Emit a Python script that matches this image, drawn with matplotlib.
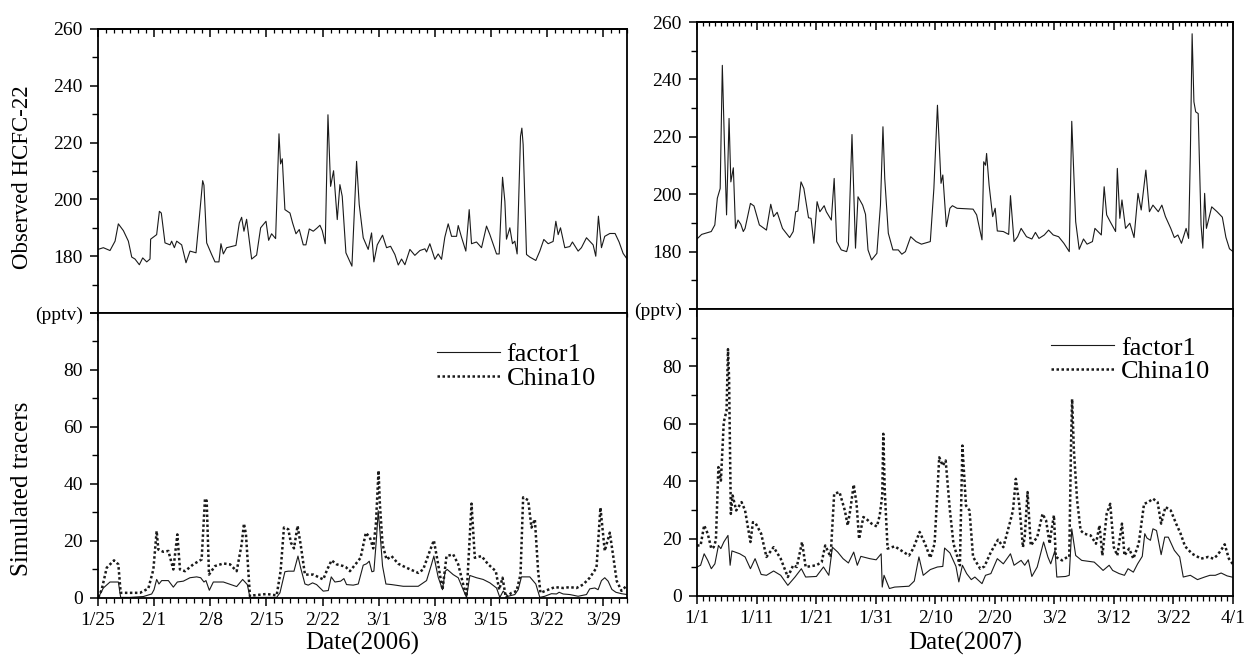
import numpy as np
import matplotlib
matplotlib.use("Agg")
import matplotlib.pyplot as plt
from matplotlib.ticker import FixedLocator, MultipleLocator

# ---------------------------------------------------------------
# Data: (day since first date, value)
# 2006 panels start on 1/25, 2007 panels start on 1/1
# ---------------------------------------------------------------
obs_2006 = [
    (0.0, 182.4), (0.66, 183), (1.49, 182), (2.12, 185.3), (2.53, 191.4), (3.16, 189),
    (3.78, 185.3), (4.20, 179.7), (4.61, 179), (5.15, 177), (5.57, 179.4), (6.07, 178),
    (6.48, 179), (6.56, 186), (7.31, 187.6), (7.65, 195.8), (7.89, 195.2), (8.35, 184.7),
    (8.98, 184), (9.18, 185.3), (9.52, 183), (9.81, 185.3), (10.43, 184), (10.97, 177.7),
    (11.47, 181.8), (12.22, 181.2), (12.63, 193.5), (13.05, 206.6), (13.21, 205),
    (13.55, 184.7), (14.17, 180.6), (14.59, 178), (15.08, 178), (15.33, 184.4),
    (15.63, 180.8), (16.04, 183), (17.20, 183.8), (17.62, 191.7), (17.91, 193.7),
    (18.20, 188.8), (18.53, 193), (19.16, 179), (19.78, 180.4), (20.28, 190),
    (20.95, 192.3), (21.28, 185.6), (21.65, 187.9), (22.15, 186.2), (22.57, 223.1),
    (22.77, 212.5), (22.98, 214.3), (23.31, 196.4), (23.94, 195.2), (24.27, 191.7),
    (24.69, 187.9), (25.10, 189.4), (25.60, 184), (25.93, 184), (26.35, 189.6),
    (26.85, 188.8), (27.35, 190), (27.68, 190.9), (27.97, 189), (28.34, 184.4),
    (28.68, 229.8), (29.01, 204.6), (29.38, 210.1), (29.84, 192.9), (30.17, 205.2),
    (30.46, 201.1), (30.92, 181.2), (31.67, 176.5), (32.25, 213.4), (32.58, 198.2),
    (33.08, 186.5), (33.70, 182.4), (34.12, 188.2), (34.41, 178), (34.83, 184),
    (35.49, 187.4), (35.99, 183), (36.49, 183.5), (37.03, 180.6), (37.45, 176.9),
    (37.86, 179), (38.28, 177), (38.90, 182.4), (39.52, 180.3), (40.15, 182),
    (40.77, 182.6), (40.98, 181.5), (41.39, 184.4), (42.02, 178.9), (42.43, 180.8),
    (42.85, 178.9), (43.26, 186.7), (43.68, 191.4), (44.10, 187), (44.72, 187),
    (44.93, 190.8), (45.34, 186.7), (45.88, 181.8), (46.30, 196.4), (46.59, 184.4),
    (47.21, 185), (47.84, 183), (48.46, 190.6), (48.88, 187.6), (49.71, 180.8),
    (50.04, 180.8), (50.46, 207.8), (50.75, 199.3), (50.95, 186), (51.37, 190),
    (51.70, 184.4), (51.99, 185.3), (52.28, 180.8), (52.70, 222.2), (52.87, 225.1),
    (53.03, 219.3), (53.45, 180.6), (53.86, 179.7), (54.61, 178.5), (55.11, 181.8),
    (55.61, 185.9), (56.15, 184.4), (56.77, 185.2), (57.11, 192.3), (57.40, 187.6),
    (57.69, 190), (58.23, 183), (58.85, 183.4), (59.18, 185), (59.89, 181.8),
    (60.30, 183), (60.93, 186.5), (61.76, 184), (62.09, 180), (62.42, 194.1),
    (62.80, 183), (63.21, 187), (63.84, 188), (64.5, 188), (65.0, 185), (65.5, 181),
    (66.0, 179),
]

factor1_2006 = [
    (0.04, 0.2), (0.66, 3.5), (1.49, 5.6), (2.53, 5.6), (2.82, 0.2), (3.99, 0.2),
    (5.65, 0.5), (6.69, 1.4), (6.98, 2.9), (7.31, 6.5), (7.60, 4.9), (7.94, 6.1),
    (8.77, 6.1), (9.39, 3.8), (9.89, 5.6), (10.64, 5.9), (11.47, 7.1), (12.30, 7.4),
    (12.80, 7.1), (13.21, 5.6), (13.46, 6.1), (13.88, 2.7), (14.38, 5.6), (15.63, 5.6),
    (17.29, 4.0), (18.04, 6.5), (18.62, 4.7), (18.95, 0.2), (19.78, 0.2), (22.28, 0.2),
    (22.69, 1.8), (23.31, 9.2), (23.73, 9.4), (24.44, 9.4), (24.94, 14.7), (25.27, 10.6),
    (25.81, 4.9), (26.22, 4.5), (26.76, 5.3), (27.26, 4.7), (28.09, 2.4), (28.72, 2.6),
    (29.09, 7.4), (29.55, 5.6), (30.26, 5.9), (30.67, 6.8), (31.00, 4.7), (31.83, 4.5),
    (32.46, 4.9), (33.08, 11.5), (33.50, 12.0), (33.83, 12.9), (34.16, 9.2), (34.41, 9.4),
    (34.74, 21.2), (34.95, 30.6), (35.16, 23.5), (35.49, 11.2), (35.91, 4.9),
    (36.61, 4.7), (38.07, 4.1), (39.94, 4.1), (40.98, 6.1), (41.60, 11.8), (41.89, 14.7),
    (42.43, 7.3), (42.97, 2.9), (43.31, 9.4), (43.56, 10.0), (44.30, 8.2), (44.93, 7.1),
    (45.55, 2.9), (45.97, 0.2), (46.38, 7.9), (47.21, 7.1), (48.04, 6.5), (48.88, 5.3),
    (49.71, 3.5), (50.12, 0.2), (50.54, 2.4), (51.16, 0.6), (51.99, 1.2), (52.41, 2.9),
    (52.82, 7.4), (53.86, 7.4), (54.61, 4.9), (55.11, 0.2), (55.73, 0.6), (56.56, 1.5),
    (57.19, 1.4), (57.52, 2.0), (58.02, 1.4), (58.85, 1.2), (59.89, 0.6), (60.93, 1.2),
    (61.34, 3.2), (61.97, 3.5), (62.38, 2.9), (62.80, 6.1), (63.21, 7.1), (63.63, 5.9),
    (64.1, 3.0), (64.6, 2.0), (65.3, 1.5), (66.0, 1.2),
]

china10_2006 = [
    (0.04, 0.2), (0.45, 2.9), (1.08, 10.6), (1.99, 13.2), (2.53, 11.8), (2.82, 1.8),
    (3.57, 1.8), (5.23, 1.8), (6.27, 3.3), (6.90, 10.0), (7.31, 23.5), (7.52, 17.0),
    (8.14, 16.2), (8.77, 16.5), (9.39, 10.0), (9.89, 22.3), (10.22, 10.0), (10.85, 9.4),
    (11.88, 11.8), (12.92, 13.5), (13.34, 34.9), (13.55, 34.1), (13.84, 8.2),
    (14.59, 11.2), (15.63, 12.1), (16.46, 11.8), (17.29, 9.4), (17.91, 18.8),
    (18.20, 26.1), (18.45, 22.3), (18.95, 0.6), (19.37, 0.9), (21.03, 1.4), (22.28, 0.9),
    (22.77, 9.4), (23.19, 24.7), (23.73, 24.1), (24.06, 19.4), (24.44, 17.4),
    (24.89, 25.3), (25.27, 18.8), (25.81, 8.2), (26.85, 8.2), (28.09, 6.5),
    (28.59, 10.0), (29.13, 13.2), (29.76, 11.8), (30.59, 11.2), (30.92, 10.8),
    (31.42, 9.4), (32.25, 12.3), (32.75, 14.1), (33.41, 22.9), (33.91, 21.2),
    (34.33, 17.4), (34.66, 25.9), (34.99, 44.7), (35.16, 32.9), (35.49, 18.8),
    (35.99, 13.5), (36.61, 14.7), (37.45, 12.0), (38.48, 10.6), (39.94, 8.8),
    (40.56, 10.0), (41.39, 16.5), (41.89, 20.2), (42.43, 11.8), (42.97, 2.9),
    (43.47, 14.7), (44.30, 15.3), (44.93, 11.8), (45.76, 2.4), (45.97, 0.6),
    (46.59, 33.1), (47.00, 14.1), (47.84, 14.7), (48.67, 11.8), (49.62, 9.4),
    (50.04, 2.9), (50.46, 7.1), (50.87, 0.2), (51.58, 1.8), (52.20, 2.4), (52.70, 8.2),
    (53.03, 35.3), (53.66, 34.3), (54.07, 24.7), (54.49, 27.6), (54.90, 9.4),
    (55.19, 1.8), (56.15, 2.9), (56.98, 3.8), (58.02, 3.5), (58.85, 3.8), (59.68, 3.5),
    (60.51, 4.7), (61.34, 7.1), (62.18, 10.6), (62.67, 31.7), (63.21, 16.5),
    (63.84, 22.9), (64.3, 14.0), (64.7, 6.0), (65.3, 2.5), (66.0, 4.5),
]

obs_2007 = [
    (0.0, 184.4), (0.78, 186.0), (2.39, 187.0), (2.99, 189.3), (3.41, 198.6),
    (3.89, 202.0), (4.25, 244.9), (4.61, 217.1), (4.96, 192.8), (5.38, 226.4),
    (5.68, 204.3), (6.10, 209.2), (6.46, 188.1), (6.88, 191.0), (7.36, 189.5),
    (7.77, 187.0), (8.07, 188.1), (8.97, 196.8), (9.57, 195.9), (10.47, 189.3),
    (11.66, 187.5), (12.38, 196.5), (12.86, 192.2), (13.46, 193.7), (14.35, 188.1),
    (15.55, 184.9), (16.15, 187.0), (16.57, 193.9), (16.93, 194.1), (17.46, 204.3),
    (17.94, 202.0), (18.72, 191.8), (19.14, 191.6), (19.62, 182.9), (20.16, 197.4),
    (20.63, 193.9), (21.35, 196.0), (21.71, 193.9), (22.55, 191.0), (23.03, 205.5),
    (23.45, 183.5), (24.22, 180.6), (25.12, 180.0), (25.42, 182.3), (26.02, 220.8),
    (26.61, 181.2), (27.03, 199.1), (27.81, 196.2), (28.29, 193.0), (28.71, 180.6),
    (29.31, 177.1), (30.20, 179.4), (30.80, 196.2), (31.22, 223.5), (31.52, 205.5),
    (32.12, 186.4), (32.89, 180.6), (33.79, 180.6), (34.39, 179.1), (34.99, 180.0),
    (35.88, 185.2), (36.78, 183.5), (37.68, 182.6), (39.17, 183.5), (39.77, 202.0),
    (40.37, 231.0), (40.97, 203.8), (41.27, 206.7), (41.87, 188.7), (42.46, 195.1),
    (42.88, 196.0), (43.66, 195.1), (46.35, 194.8), (46.95, 192.8), (47.43, 188.1),
    (47.85, 184.1), (48.14, 211.3), (48.44, 210.1), (48.62, 214.2), (49.04, 203.2),
    (49.64, 192.2), (50.06, 195.1), (50.42, 187.2), (51.43, 187.0), (52.33, 186.0),
    (52.63, 199.5), (53.23, 183.5), (53.83, 185.2), (54.42, 188.1), (55.32, 185.2),
    (56.22, 184.4), (56.82, 186.7), (57.41, 184.6), (58.31, 185.8), (59.03, 187.5),
    (59.81, 185.8), (60.71, 185.2), (61.60, 182.9), (62.50, 180.0), (62.92, 225.4),
    (63.58, 190.4), (64.17, 180.8), (64.89, 184.4), (65.49, 182.6), (66.39, 183.5),
    (66.81, 188.1), (67.88, 185.8), (68.36, 202.6), (68.78, 192.8), (69.38, 190.4),
    (70.28, 187.0), (70.57, 209.0), (70.99, 191.6), (71.35, 198.0), (71.95, 188.1),
    (72.67, 189.9), (73.38, 184.9), (74.04, 200.3), (74.58, 194.5), (75.36, 208.4),
    (75.96, 193.9), (76.55, 196.2), (77.45, 193.9), (78.05, 196.2), (78.65, 192.2),
    (79.54, 188.1), (80.14, 184.9), (80.74, 185.8), (81.34, 182.9), (82.12, 188.1),
    (82.54, 184.6), (82.83, 213.6), (83.13, 255.9), (83.43, 232.2), (83.73, 228.7),
    (84.15, 228.1), (84.63, 189.3), (84.93, 181.2), (85.23, 200.3), (85.53, 188.1),
    (86.42, 195.6), (87.32, 193.9), (88.2, 192.0), (88.8, 185.0), (89.4, 181.0),
    (90.0, 180.0),
]

factor1_2007 = [
    (0.0, 10.1), (0.6, 10.7), (1.2, 14.7), (1.8, 12.4), (2.4, 9.5), (3.0, 11.2),
    (3.6, 17.6), (4.0, 16.5), (4.5, 18.8), (5.2, 21.1), (5.56, 10.7), (5.86, 15.7),
    (7.18, 14.7), (8.07, 13.6), (8.97, 9.5), (9.75, 13.0), (10.77, 7.5), (11.66, 7.2),
    (12.86, 8.7), (14.05, 7.2), (15.25, 3.7), (16.45, 6.6), (17.52, 9.5), (18.24, 6.6),
    (20.04, 6.8), (21.23, 10.1), (22.13, 7.2), (22.73, 17.0), (23.62, 15.3),
    (24.52, 13.0), (25.42, 11.5), (26.31, 15.3), (26.91, 10.7), (27.51, 13.8),
    (29.01, 13.0), (30.08, 12.6), (30.92, 14.7), (31.10, 3.1), (31.40, 7.2),
    (32.30, 2.6), (33.19, 3.1), (35.59, 3.4), (36.48, 5.2), (37.26, 13.6), (37.98, 7.2),
    (39.17, 9.2), (40.37, 10.1), (41.27, 10.3), (41.57, 16.7), (42.46, 15.0),
    (43.48, 10.3), (43.96, 4.9), (44.56, 10.7), (45.27, 7.8), (46.05, 5.7), (46.65, 6.6),
    (47.85, 4.3), (48.44, 7.2), (49.34, 7.8), (50.42, 13.0), (51.43, 11.2),
    (52.63, 14.7), (53.23, 10.7), (54.42, 12.4), (55.02, 10.7), (55.62, 12.6),
    (56.22, 6.8), (57.12, 10.1), (58.19, 18.8), (58.91, 13.6), (59.39, 11.2),
    (60.11, 15.9), (60.41, 6.6), (61.90, 6.8), (62.50, 7.2), (62.92, 23.4),
    (63.58, 14.1), (64.59, 12.4), (66.69, 11.8), (67.58, 10.1), (68.18, 8.9),
    (69.20, 10.7), (69.79, 8.9), (70.87, 7.8), (71.77, 7.2), (72.37, 9.5), (73.26, 8.3),
    (73.98, 11.2), (74.76, 13.8), (75.18, 21.7), (75.54, 20.2), (76.13, 19.4),
    (76.55, 23.4), (77.15, 22.8), (77.93, 14.4), (78.53, 20.5), (79.13, 20.5),
    (80.14, 15.9), (81.04, 13.6), (81.64, 6.6), (82.83, 7.2), (84.03, 5.7), (85.23, 6.6),
    (86.12, 7.2), (87.02, 7.2), (88.0, 8.0), (89.0, 7.0), (90.0, 6.5),
]

china10_2007 = [
    (0.0, 17.6), (0.6, 17.6), (1.2, 24.6), (1.8, 21.7), (2.4, 16.5), (2.8, 17.0),
    (3.17, 19.4), (3.59, 44.9), (4.01, 40.2), (4.49, 60.5), (4.96, 64.6), (5.20, 86.0),
    (5.38, 76.2), (5.68, 28.6), (5.98, 35.0), (6.58, 29.8), (7.48, 32.7), (8.07, 29.8),
    (8.97, 18.8), (9.39, 25.7), (9.87, 25.2), (10.77, 21.7), (11.66, 13.6),
    (12.86, 17.0), (14.05, 13.0), (15.25, 6.6), (16.15, 10.7), (16.75, 10.1),
    (17.64, 18.8), (18.24, 10.1), (20.04, 10.7), (20.93, 11.8), (21.53, 17.6),
    (22.43, 13.6), (23.03, 35.6), (23.92, 36.2), (24.82, 29.8), (25.30, 24.6),
    (25.72, 29.8), (26.31, 38.8), (26.79, 32.1), (27.21, 19.9), (27.93, 27.5),
    (28.41, 26.9), (29.31, 25.2), (30.20, 24.2), (30.68, 28.1), (31.10, 35.0),
    (31.28, 56.5), (31.52, 36.8), (32.00, 16.5), (33.19, 17.3), (35.59, 14.1),
    (36.30, 16.5), (37.38, 22.3), (38.28, 18.2), (39.17, 13.3), (39.89, 18.2),
    (40.67, 48.3), (41.27, 45.4), (41.75, 47.2), (42.46, 29.8), (43.06, 18.2),
    (43.66, 14.1), (44.14, 10.7), (44.56, 52.4), (45.16, 31.5), (45.75, 29.8),
    (46.35, 13.6), (47.55, 9.5), (48.26, 10.3), (49.34, 15.3), (50.54, 19.6),
    (51.43, 17.0), (52.63, 26.3), (53.05, 29.8), (53.53, 40.8), (54.13, 31.5),
    (54.72, 17.0), (55.02, 20.5), (55.50, 36.2), (56.04, 17.6), (57.12, 20.5),
    (58.01, 28.6), (58.61, 26.3), (59.21, 18.2), (59.51, 22.8), (59.93, 28.1),
    (60.23, 13.6), (61.30, 12.4), (62.20, 13.6), (62.50, 13.6), (62.80, 53.0),
    (62.98, 68.6), (63.28, 50.7), (63.82, 33.3), (64.41, 22.8), (65.01, 21.7),
    (66.09, 21.1), (66.99, 18.2), (67.58, 24.6), (68.06, 14.1), (68.78, 28.6),
    (69.38, 32.1), (69.98, 17.0), (70.57, 14.1), (71.35, 25.2), (71.77, 14.1),
    (72.55, 16.5), (73.26, 13.0), (74.16, 18.2), (75.06, 32.1), (75.78, 32.7),
    (76.55, 33.9), (77.33, 32.7), (77.93, 25.2), (78.65, 31.0), (79.54, 29.8),
    (80.44, 25.2), (81.16, 21.9), (81.94, 17.3), (83.13, 14.7), (84.63, 13.0),
    (85.82, 13.6), (86.72, 13.0), (87.32, 14.1), (88.0, 16.0), (88.6, 18.0),
    (89.3, 13.0), (90.0, 11.0),
]

# Tick positions (days) and their date labels
ticks_2006 = [0, 7, 14, 21, 28, 35, 42, 49, 56, 63]
labels_2006 = ["1/25", "2/1", "2/8", "2/15", "2/22", "3/1", "3/8", "3/15", "3/22", "3/29"]
ticks_2007 = [0, 10, 20, 30, 40, 50, 60, 70, 80, 90]
labels_2007 = ["1/1", "1/11", "1/21", "1/31", "2/10", "2/20", "3/2", "3/12", "3/22", "4/1"]

obs_yticks = [160, 180, 200, 220, 240, 260]
obs_ylabels = ["(pptv)", "180", "200", "220", "240", "260"]
sim_yticks = [0, 20, 40, 60, 80, 100]
sim_ylabels = ["0", "20", "40", "60", "80", ""]

# ---------------------------------------------------------------
plt.rcParams["font.family"] = ["Liberation Serif", "DejaVu Serif"]
LINE = "#1a1a1a"

fig = plt.figure(figsize=(12.46, 6.65), dpi=100)

ax_obs06 = fig.add_axes([0.0787, 0.5293, 0.4246, 0.4271])
ax_sim06 = fig.add_axes([0.0787, 0.1008, 0.4246, 0.4286])
ax_obs07 = fig.add_axes([0.5594, 0.5353, 0.4302, 0.4316])
ax_sim07 = fig.add_axes([0.5594, 0.1038, 0.4302, 0.4316])


def frame(ax, xmax, xticks):
    for s in ax.spines.values():
        s.set_linewidth(1.3)
    ax.set_xlim(0, xmax)
    ax.xaxis.set_major_locator(FixedLocator(xticks))
    ax.xaxis.set_minor_locator(MultipleLocator(1))
    ax.tick_params(axis="y", which="both", left=True, right=False, direction="out",
                   labelsize=14, pad=5)
    ax.tick_params(axis="y", which="major", length=6, width=1.1)
    ax.tick_params(axis="y", which="minor", length=4, width=1.0)


def top_ticks(ax, xticks):
    sec = ax.secondary_xaxis("top")
    sec.xaxis.set_major_locator(FixedLocator(xticks))
    sec.xaxis.set_minor_locator(MultipleLocator(1))
    sec.tick_params(axis="x", which="both", direction="in", labeltop=False)
    sec.tick_params(axis="x", which="major", length=6, width=1.1)
    sec.tick_params(axis="x", which="minor", length=3, width=0.9)
    sec.spines["top"].set_linewidth(1.3)


def obs_panel(ax, data, xmax, xticks):
    d = np.array(data)
    ax.plot(d[:, 0], d[:, 1], color=LINE, lw=0.8)
    frame(ax, xmax, xticks)
    ax.set_ylim(160, 260)
    ax.set_yticks(obs_yticks)
    ax.set_yticklabels(obs_ylabels)
    ax.yaxis.set_minor_locator(MultipleLocator(10))
    # bottom ticks point down into the lower panel
    ax.tick_params(axis="x", which="both", bottom=True, top=False, direction="out",
                   labelbottom=False)
    ax.tick_params(axis="x", which="major", length=6, width=1.1)
    ax.tick_params(axis="x", which="minor", length=3, width=0.9)
    top_ticks(ax, xticks)


def sim_panel(ax, f1, cn, xmax, xticks, xlabels, legend_anchor):
    a = np.array(f1)
    b = np.array(cn)
    ax.plot(a[:, 0], a[:, 1], color=LINE, lw=0.8, label="factor1")
    ax.plot(b[:, 0], b[:, 1], color=LINE, lw=1.8, ls=(0, (1, 1)), label="China10")
    frame(ax, xmax, xticks)
    ax.set_ylim(0, 100)
    ax.set_yticks(sim_yticks)
    ax.set_yticklabels(sim_ylabels)
    ax.yaxis.set_minor_locator(MultipleLocator(10))
    ax.set_xticklabels(xlabels)
    ax.tick_params(axis="x", which="both", bottom=True, top=False, direction="out",
                   labelsize=14, pad=4)
    ax.tick_params(axis="x", which="major", length=6, width=1.1)
    ax.tick_params(axis="x", which="minor", length=3.5, width=0.9)
    ax.legend(loc="upper left", bbox_to_anchor=legend_anchor, frameon=False,
              fontsize=19, handlelength=2.4, handletextpad=0.25,
              labelspacing=0.0, borderpad=0, borderaxespad=0)


obs_panel(ax_obs06, obs_2006, 66, ticks_2006)
obs_panel(ax_obs07, obs_2007, 90, ticks_2007)
sim_panel(ax_sim06, factor1_2006, china10_2006, 66, ticks_2006, labels_2006,
          (0.64, 0.895))
sim_panel(ax_sim07, factor1_2007, china10_2007, 90, ticks_2007, labels_2007,
          (0.66, 0.905))

fig.text(0.0177, 1 - 177 / 665, "Observed HCFC-22", rotation=90,
         ha="center", va="center", fontsize=16.5)
fig.text(0.0177, 1 - 489 / 665, "Simulated tracers", rotation=90,
         ha="center", va="center", fontsize=18)
fig.text(362 / 1246, 1 - 643 / 665, "Date(2006)", ha="center", va="center", fontsize=18)
fig.text(965 / 1246, 1 - 643 / 665, "Date(2007)", ha="center", va="center", fontsize=18)

fig.savefig("out.png", dpi=100)
